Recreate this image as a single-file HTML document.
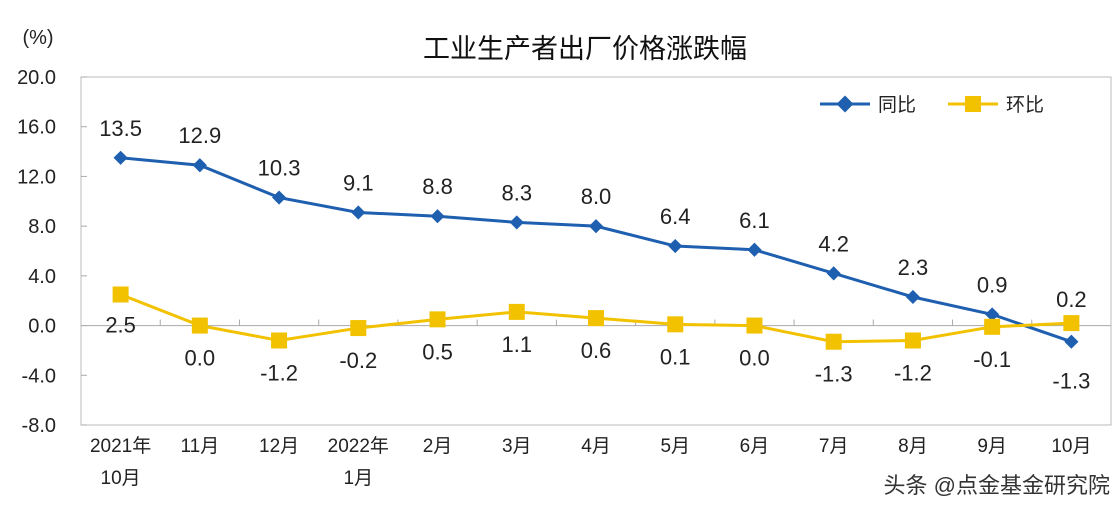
<!DOCTYPE html>
<html><head><meta charset="utf-8"><style>
body{margin:0;background:#fff;}
svg text{font-family:"Liberation Sans","Noto Sans CJK SC",sans-serif;}
</style></head><body>
<svg width="1120" height="504" xmlns="http://www.w3.org/2000/svg">
<rect width="1120" height="504" fill="#fff"/>
<text x="585" y="58" font-size="27" text-anchor="middle" fill="#111">工业生产者出厂价格涨跌幅</text>
<text x="38" y="44" font-size="20" text-anchor="middle" fill="#222">(%)</text>
<rect x="81" y="77" width="1030" height="348" fill="none" stroke="#bbb"/>
<g id="axes"></g>
<g id="series"></g>
<g>
<line x1="820" y1="104" x2="870" y2="104" stroke="#1f5fb0" stroke-width="3"/>
<rect x="839" y="98" width="12" height="12" fill="#1f5fb0" transform="rotate(45 845 104)"/>
<text x="878" y="111" font-size="19" fill="#222">同比</text>
<line x1="948" y1="104" x2="998" y2="104" stroke="#f2c200" stroke-width="3"/>
<rect x="965" y="96" width="16" height="16" fill="#f2c200"/>
<text x="1006" y="111" font-size="19" fill="#222">环比</text>
</g>
<text x="1110" y="493" font-size="22" text-anchor="end" fill="#333">头条 @点金基金研究院</text>
</svg>
<script>
const categories1=["2021年","11月","12月","2022年","2月","3月","4月","5月","6月","7月","8月","9月","10月"];
const categories2=["10月","","","1月","","","","","","","","",""];
const yoy=[13.5,12.9,10.3,9.1,8.8,8.3,8.0,6.4,6.1,4.2,2.3,0.9,-1.3];
const mom=[2.5,0.0,-1.2,-0.2,0.5,1.1,0.6,0.1,0.0,-1.3,-1.2,-0.1,0.2];
const yTicks=[20,16,12,8,4,0,-4,-8];
const NS="http://www.w3.org/2000/svg";
const L=81,W=1030,T=77,B=425,ymax=20,ymin=-8;
const bw=W/categories1.length;
function xs(i){return L+bw*(i+0.5);}
function ys(v){return T+(ymax-v)/(ymax-ymin)*(B-T);}
function mk(tag,a,p){const e=document.createElementNS(NS,tag);for(const k in a)e.setAttribute(k,a[k]);p.appendChild(e);return e;}
const ax=document.getElementById('axes'),sg=document.getElementById('series');
yTicks.forEach(v=>{
 const t=mk('text',{x:56,y:ys(v)+7,'font-size':20,'text-anchor':'end',fill:'#222'},ax);t.textContent=v.toFixed(1);
 
 
 mk('line',{x1:L,x2:L+6,y1:ys(v),y2:ys(v),stroke:'#aaa'},ax);
});
mk('line',{x1:L,x2:L+W,y1:ys(0),y2:ys(0),stroke:'#aaa'},ax);
categories1.forEach((c,i)=>{
 if(i>0)mk('line',{x1:L+bw*i,x2:L+bw*i,y1:ys(0)-6,y2:ys(0),stroke:'#aaa'},ax);
 const t=mk('text',{x:xs(i),y:452,'font-size':19,'text-anchor':'middle',fill:'#222'},ax);t.textContent=c;
 
 
 if(categories2[i]){const t2=mk('text',{x:xs(i),y:484,'font-size':19,'text-anchor':'middle',fill:'#222'},ax);t2.textContent=categories2[i];
 
 }
});
mk('polyline',{points:yoy.map((v,i)=>xs(i)+','+ys(v)).join(' '),fill:'none',stroke:'#1f5fb0','stroke-width':3},sg);
mk('polyline',{points:mom.map((v,i)=>xs(i)+','+ys(v)).join(' '),fill:'none',stroke:'#f2c200','stroke-width':3},sg);
const last=yoy.length-1;
yoy.forEach((v,i)=>{
 const m=mk('rect',{x:xs(i)-5,y:ys(v)-5,width:10,height:10,fill:'#1f5fb0',transform:`rotate(45 ${xs(i)} ${ys(v)})`},sg);
 
 
 const ly=i==last?ys(v)+47:ys(v)-22;
 const t=mk('text',{x:xs(i),y:ly,'font-size':22,'text-anchor':'middle',fill:'#222'},sg);t.textContent=v.toFixed(1);
 
 
});
mom.forEach((v,i)=>{
 const m=mk('rect',{x:xs(i)-8,y:ys(v)-8,width:16,height:16,fill:'#f2c200'},sg);
 
 
 let ly=ys(v)+40;
 if(i==0)ly=ys(v)+38;
 if(i==last)ly=ys(v)-16;
 const t=mk('text',{x:xs(i),y:ly,'font-size':22,'text-anchor':'middle',fill:'#222'},sg);t.textContent=v.toFixed(1);
 
 
});
</script>
</body></html>
